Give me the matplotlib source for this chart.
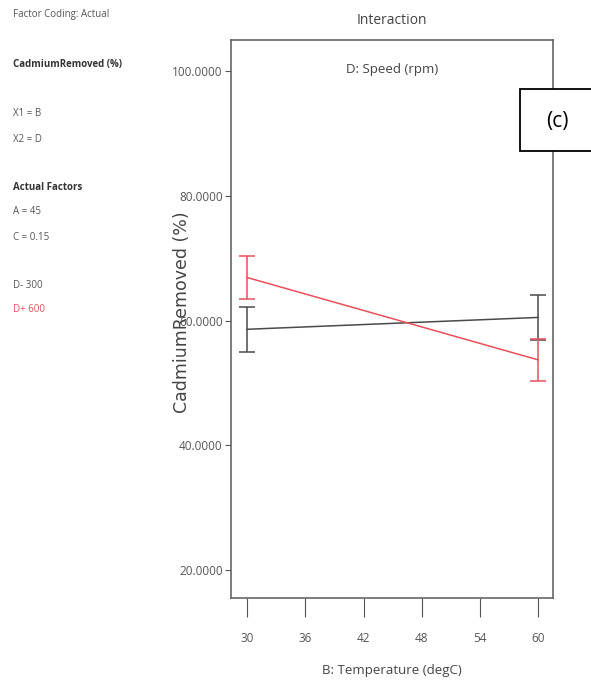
import matplotlib
matplotlib.use("Agg")
import matplotlib.pyplot as plt
from matplotlib.patches import Rectangle

plt.rcParams['font.family'] = ['Open Sans', 'DejaVu Sans']

# interaction of B (temperature) at the two levels of D (speed)
temps = [30, 60]
low_speed = [58.6, 60.5]      # D- 300
low_err = [3.6, 3.6]
high_speed = [66.9, 53.7]     # D+ 600
high_err = [3.5, 3.4]
xticks = [30, 36, 42, 48, 54, 60]
yticks = [20, 40, 60, 80, 100]

side_notes = [
    ("Factor Coding: Actual", False, "#555555"),
    ("CadmiumRemoved (%)", True, "#333333"),
    ("X1 = B", False, "#555555"),
    ("X2 = D", False, "#555555"),
    ("Actual Factors", True, "#333333"),
    ("A = 45", False, "#555555"),
    ("C = 0.15", False, "#555555"),
    ("D- 300", False, "#555555"),
    ("D+ 600", False, "#e8505b"),
]
note_y = [15, 65, 113, 140, 188, 212, 238, 285, 310]

W, H = 591, 686
fig = plt.figure(figsize=(W / 100, H / 100), dpi=100)
ax = fig.add_axes([0.391, 0.128, 0.545, 0.814])

grey = "#4a4a4a"
red = "#e8505b"
ax.errorbar(temps, low_speed, yerr=low_err, color=grey, lw=1.1,
            capsize=6, capthick=1.1, elinewidth=1.1)
ax.errorbar(temps, high_speed, yerr=high_err, color=red, lw=1.1,
            capsize=6, capthick=1.1, elinewidth=1.1)

ax.set_xlim(28.35, 61.55)
ax.set_ylim(15.5, 105)
ax.set_xticks(xticks)
ax.set_yticks(yticks)
ax.set_yticklabels(["%.4f" % v for v in yticks])
ax.tick_params(axis='y', labelsize=8.5, colors="#555555", length=4, pad=2)
ax.tick_params(axis='x', labelsize=8.5, colors="#555555", length=14, pad=10)
for sp in ax.spines.values():
    sp.set_color("#666666")
    sp.set_linewidth(1.2)

ax.set_xlabel("B: Temperature (degC)", fontsize=9.5, color="#444444", labelpad=14)
# the response label sits over the tick labels, as in the original export
fig.text(182 / W, 1 - 312 / H, "CadmiumRemoved (%)", rotation=90, fontsize=12.5,
         color="#444444", family="DejaVu Sans", ha='center', va='center')
fig.text(0.663, 0.97, "Interaction", fontsize=10, color="#444444",
         ha='center', va='center')
ax.text(0.5, 0.946, "D: Speed (rpm)", transform=ax.transAxes, fontsize=9.5,
        color="#444444", ha='center', va='center')

# panel tag box, running off the right edge
fig.add_artist(Rectangle((520 / W, 1 - 151 / H), 80 / W, 62 / H,
                         transform=fig.transFigure, fc='white', ec='black',
                         lw=1.3, clip_on=False, zorder=5))
fig.text(557 / W, 1 - 121 / H, "(c)", fontsize=15, ha='center', va='center',
         zorder=6)

for (txt, bold, col), y in zip(side_notes, note_y):
    fig.text(13 / W, 1 - y / H, txt, fontsize=7, color=col,
             fontweight='bold' if bold else 'normal', va='center', ha='left')

fig.savefig("out.png", dpi=100)
